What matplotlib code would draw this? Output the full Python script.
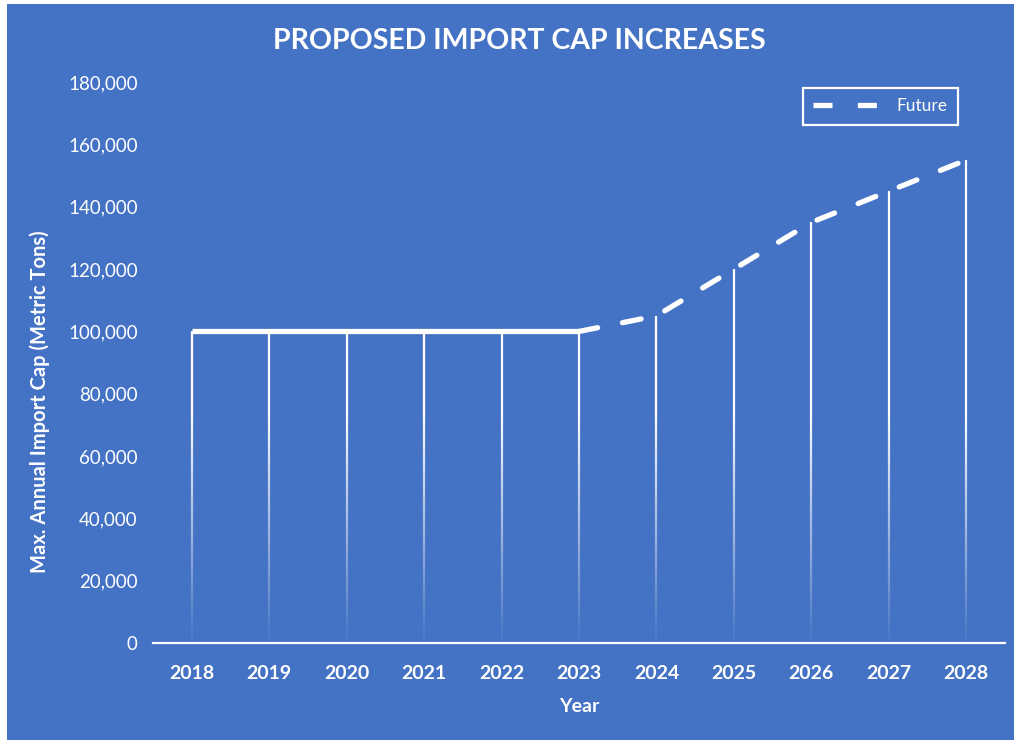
import numpy as np
import matplotlib.pyplot as plt
from matplotlib.patches import Rectangle
from matplotlib.lines import Line2D

plt.rcParams['font.family'] = ['Lato', 'DejaVu Sans']

years = ['2018', '2019', '2020', '2021', '2022', '2023', '2024', '2025', '2026', '2027', '2028']
current_caps = [100000, 100000, 100000, 100000, 100000, 100000]
future_caps = [100000, 105000, 120000, 135000, 145000, 155000]
yticks = [0, 20000, 40000, 60000, 80000, 100000, 120000, 140000, 160000, 180000]

blue = '#4472C4'
white = '#FFFFFF'

fig = plt.figure(figsize=(10.14, 7.40), dpi=100, facecolor=blue)
# thin white strip on the left and top edges
fig.patches.append(Rectangle((0, 0), 7 / 1014, 1, transform=fig.transFigure,
                             facecolor=white, edgecolor='none', zorder=-10))
fig.patches.append(Rectangle((0, 1 - 4 / 740), 1, 4 / 740, transform=fig.transFigure,
                             facecolor=white, edgecolor='none', zorder=-10))
ax = fig.add_axes([0.151, 0.131, 0.840, 0.758])
ax.set_facecolor(blue)

x_cur = np.arange(len(current_caps))
x_fut = np.arange(len(current_caps) - 1, len(years))
all_vals = current_caps[:-1] + future_caps

# drop lines fading toward the axis
for xi, v in enumerate(all_vals):
    edges = np.linspace(0, v, 80)
    for lo, hi in zip(edges[:-1], edges[1:]):
        a = float(np.clip(hi / 75000, 0.05, 1.0))
        ax.plot([xi, xi], [lo, hi], color=white, lw=1.6, alpha=a,
                solid_capstyle='butt', zorder=2)

ax.plot(x_cur, current_caps, color=white, lw=3.8, solid_capstyle='butt',
        solid_joinstyle='round', zorder=3)
ax.plot(x_fut, future_caps, color=white, lw=3.8, linestyle=(0, (3.6, 4.8)),
        dash_capstyle='round', zorder=3)

ax.set_xlim(-0.5, len(years) - 0.5)
ax.set_ylim(0, 180000)
ax.set_xticks(np.arange(len(years)))
ax.set_xticklabels(years, fontsize=14, fontweight='bold', color=white)
ax.set_yticks(yticks)
ax.set_yticklabels([f'{t:,}' for t in yticks], fontsize=13.5, color=white)
ax.tick_params(length=0)
ax.tick_params(axis='x', pad=16)
ax.tick_params(axis='y', pad=11)

for s in ['top', 'right', 'left']:
    ax.spines[s].set_visible(False)
ax.spines['bottom'].set_color(white)
ax.spines['bottom'].set_linewidth(1.6)

ax.set_xlabel('Year', fontsize=14, fontweight='bold', color=white, labelpad=11)
ax.set_ylabel('Max. Annual Import Cap (Metric Tons)', fontsize=14.5, fontweight='bold',
              color=white)
ax.yaxis.set_label_coords(-0.121, 0.431)
fig.text(0.512, 0.945, 'PROPOSED IMPORT CAP INCREASES', fontsize=20.5, fontweight='bold',
         color=white, ha='center', va='center')

handle = Line2D([0], [0], color=white, lw=3.8, linestyle=(0, (3.6, 4.8)), dash_capstyle='butt')
leg = ax.legend([handle], ['Future'], loc='upper right', bbox_to_anchor=(0.955, 1.005),
                frameon=True, fancybox=False, fontsize=12.5, handlelength=4.0,
                borderpad=0.6, labelcolor=white)
leg.get_frame().set_facecolor(blue)
leg.get_frame().set_edgecolor(white)
leg.get_frame().set_linewidth(1.6)
leg.get_frame().set_alpha(1)

fig.savefig('out.png', dpi=100, facecolor=blue)
